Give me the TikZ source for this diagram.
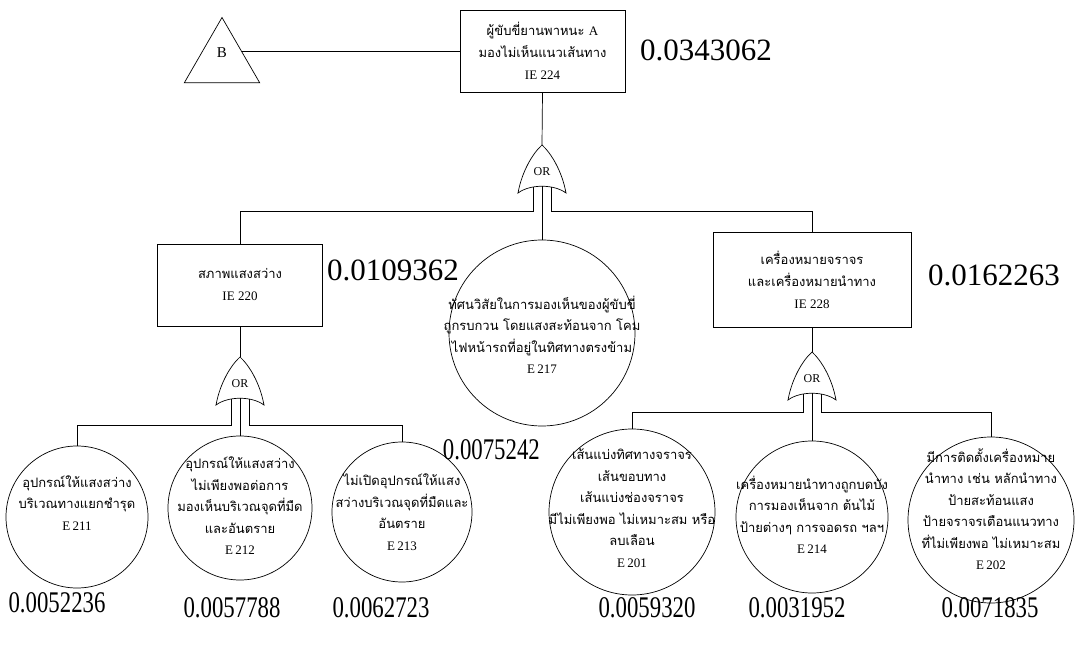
\documentclass[tikz,border=0pt]{standalone}
\usepackage{fontspec}
\setmainfont{Liberation Serif}
\newfontfamily\thai[Script=Thai]{Loma}
\usetikzlibrary{shapes.geometric,calc}

\tikzset{
  lw/.style={line width=0.7pt},
  box/.style={draw,lw,rectangle,align=center,inner sep=0pt,font=\thai\fontsize{13}{22}\selectfont},
  evt/.style={draw,lw,circle,inner sep=0pt},
  txt/.style={align=center,inner sep=0pt,font=\thai\fontsize{13}{21.5}\selectfont},
  prob/.style={inner sep=0pt,font=\fontsize{31}{31}\selectfont},
  probs/.style={inner sep=0pt,font=\fontsize{30}{30}\selectfont},
  pics/orgate/.style={code={
    \draw[lw,fill=white] (0,0) .. controls (9,8) and (20,26) .. (24,48)
      .. controls (12,39) and (-12,39) .. (-24,48)
      .. controls (-20,26) and (-9,8) .. cycle;
    \node[font=\fontsize{12}{12}\selectfont,inner sep=0pt] at (0,27) {OR};
    \coordinate (-top) at (0,0);
    \coordinate (-l) at (-9,42);
    \coordinate (-c) at (0,41);
    \coordinate (-r) at (9,42);
  }},
}

\begin{document}
\begin{tikzpicture}[x=1pt,y=-1pt]
\fill[white] (0,0) rectangle (1080,652);
\useasboundingbox (0,0) rectangle (1080,652);

% top event and transfer triangle
\node[box,minimum width=165,minimum height=82] (top) at (542.5,51)
  {ผู้ขับขี่ยานพาหนะ {\rmfamily A}\\มองไม่เห็นแนวเส้นทาง\\\rmfamily IE 224};
\node[draw,lw,regular polygon,regular polygon sides=3,minimum size=87,inner sep=0pt] (B) at (222,61) {};
\node[font=\fontsize{15}{15}\selectfont,inner sep=0pt] (Btxt) at (222,53) {B};
\coordinate (bj) at ($(B.corner 1)!0.52!(B.corner 3)$);
\draw[lw] (bj) -- (bj -| top.west);
\node[prob,anchor=west] (p224) at (640,50) {0.0343062};

% first OR gate
\pic (g1) at (542,145) {orgate};
\coordinate (bar1) at (0,211);
\draw[lw] (top.south) -- (g1-top);

% intermediate events
\node[box,minimum width=165,minimum height=82] (i220) at (240,285)
  {สภาพแสงสว่าง\\\rmfamily IE 220};
\node[box,minimum width=198,minimum height=95] (i228) at (812,280)
  {เครื่องหมายจราจร\\และเครื่องหมายนำทาง\\\rmfamily IE 228};
\node[evt,minimum size=186] (e217) at (542,333) {};
\node[txt] (t217) at (542,335)
  {ทัศนวิสัยในการมองเห็นของผู้ขับขี่\\ถูกรบกวน โดยแสงสะท้อนจาก โคม\\ไฟหน้ารถที่อยู่ในทิศทางตรงข้าม\\\rmfamily E\,217};
\node[prob,anchor=west] (p220) at (327,270) {0.0109362};
\node[prob,anchor=west] (p228) at (928,275) {0.0162263};
\node[probs,anchor=east] (p217) at (540,450) {\scalebox{0.76}[1]{0.0075242}};

\draw[lw] (g1-l) -- (g1-l |- bar1) -| (i220.north);
\draw[lw] (g1-r) -- (g1-r |- bar1) -| (i228.north);
\draw[lw] (g1-c) -- (e217.north);

% lighting branch
\pic (g2) at (240,357) {orgate};
\coordinate (bar2) at (0,425);
\draw[lw] (i220.south) -- (g2-top);
\node[evt,minimum size=142] (e211) at (77,517) {};
\node[evt,minimum size=144] (e212) at (240,508) {};
\node[evt,minimum size=140] (e213) at (402,512) {};
\node[txt] (t211) at (77,503) {อุปกรณ์ให้แสงสว่าง\\บริเวณทางแยกชำรุด\\\rmfamily E\,211};
\node[txt] (t212) at (240,506) {อุปกรณ์ให้แสงสว่าง\\ไม่เพียงพอต่อการ\\มองเห็นบริเวณจุดที่มืด\\และอันตราย\\\rmfamily E\,212};
\node[txt] (t213) at (402,512) {ไม่เปิดอุปกรณ์ให้แสง\\สว่างบริเวณจุดที่มืดและ\\อันตราย\\\rmfamily E\,213};
\draw[lw] (g2-l) -- (g2-l |- bar2) -| (e211.north);
\draw[lw] (g2-r) -- (g2-r |- bar2) -| (e213.north);
\draw[lw] (g2-c) -- (e212.north);

% signs and markings branch
\pic (g3) at (812,352) {orgate};
\coordinate (bar3) at (0,412);
\draw[lw] (i228.south) -- (g3-top);
\node[evt,minimum size=166] (e201) at (632,512) {};
\node[evt,minimum size=152] (e214) at (812,517) {};
\node[evt,minimum size=166] (e202) at (991,520) {};
\node[txt] (t201) at (632,508) {เส้นแบ่งทิศทางจราจร\\เส้นขอบทาง\\เส้นแบ่งช่องจราจร\\มีไม่เพียงพอ ไม่เหมาะสม หรือ\\ลบเลือน\\\rmfamily E\,201};
\node[txt] (t214) at (812,515) {เครื่องหมายนำทางถูกบดบัง\\การมองเห็นจาก ต้นไม้\\ป้ายต่างๆ การจอดรถ ฯลฯ\\\rmfamily E\,214};
\node[txt] (t202) at (991,509) {มีการติดตั้งเครื่องหมาย\\นำทาง เช่น หลักนำทาง\\ป้ายสะท้อนแสง\\ป้ายจราจรเตือนแนวทาง\\ที่ไม่เพียงพอ ไม่เหมาะสม\\\rmfamily E\,202};
\draw[lw] (g3-l) -- (g3-l |- bar3) -| (e201.north);
\draw[lw] (g3-r) -- (g3-r |- bar3) -| (e202.north);
\draw[lw] (g3-c) -- (e214.north);

% basic event probabilities
\node[probs] (p211) at (57,603) {\scalebox{0.76}[1]{0.0052236}};
\node[probs] (p212) at (232,608) {\scalebox{0.76}[1]{0.0057788}};
\node[probs] (p213) at (381,608) {\scalebox{0.76}[1]{0.0062723}};
\node[probs] (p201) at (647,608) {\scalebox{0.76}[1]{0.0059320}};
\node[probs] (p214) at (797,608) {\scalebox{0.76}[1]{0.0031952}};
\node[probs] (p202) at (990,608) {\scalebox{0.76}[1]{0.0071835}};
\end{tikzpicture}
\end{document}
